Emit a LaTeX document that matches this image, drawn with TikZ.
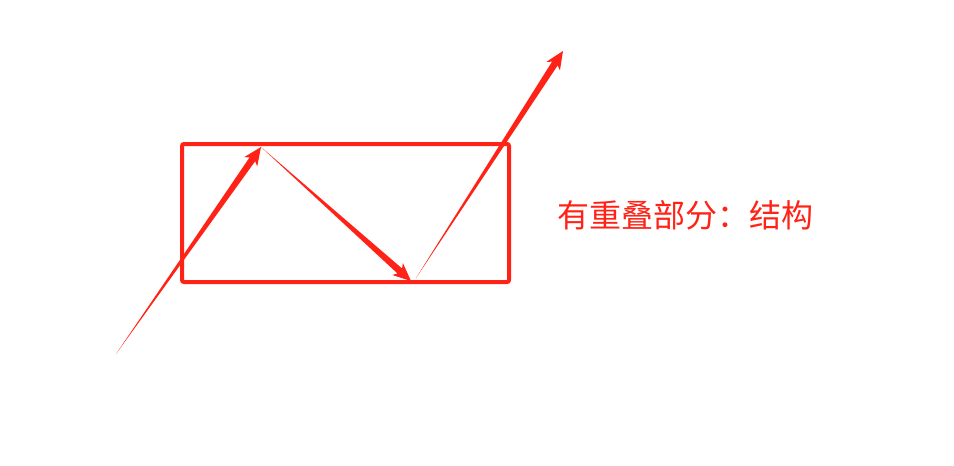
\documentclass[tikz,border=0pt]{standalone}
\usepackage{fontspec}
\newfontfamily\cjk{Noto Sans CJK SC}
\usetikzlibrary{calc}
\definecolor{myred}{RGB}{255,34,22}
\newcommand\taperarrow[2]{%
  \fill[myred] (#1)
    -- ($($(#2)!15pt!(#1)$)!3.4pt!90:(#2)$)
    -- ($($(#2)!18pt!(#1)$)!8pt!90:(#2)$)
    -- (#2)
    -- ($($(#2)!18pt!(#1)$)!8pt!-90:(#2)$)
    -- ($($(#2)!15pt!(#1)$)!3.4pt!-90:(#2)$)
    -- cycle;}
\begin{document}
\begin{tikzpicture}[x=1pt,y=-1pt]
\useasboundingbox (0,0) rectangle (954,466);
\tikzset{boxframe/.style={draw=myred,line width=4pt,rounded corners=2pt,outer sep=0pt},
  label text/.style={text=myred,font=\cjk\fontsize{32}{38}\selectfont,anchor=west,inner sep=0pt}}
\node[boxframe,minimum width=327pt,minimum height=138pt,anchor=north west,inner sep=0pt] (box) at (182,144) {};
\coordinate (a0) at (116,354);
\coordinate (a1) at (261,147);
\coordinate (a2) at (411,281);
\coordinate (a3) at (416,278);
\coordinate (a4) at (563,51);
\taperarrow{a0}{a1}
\taperarrow{a1}{a2}
\taperarrow{a3}{a4}
\node[label text] (txt) at (557,215) {有重叠部分：结构};
\end{tikzpicture}
\end{document}
